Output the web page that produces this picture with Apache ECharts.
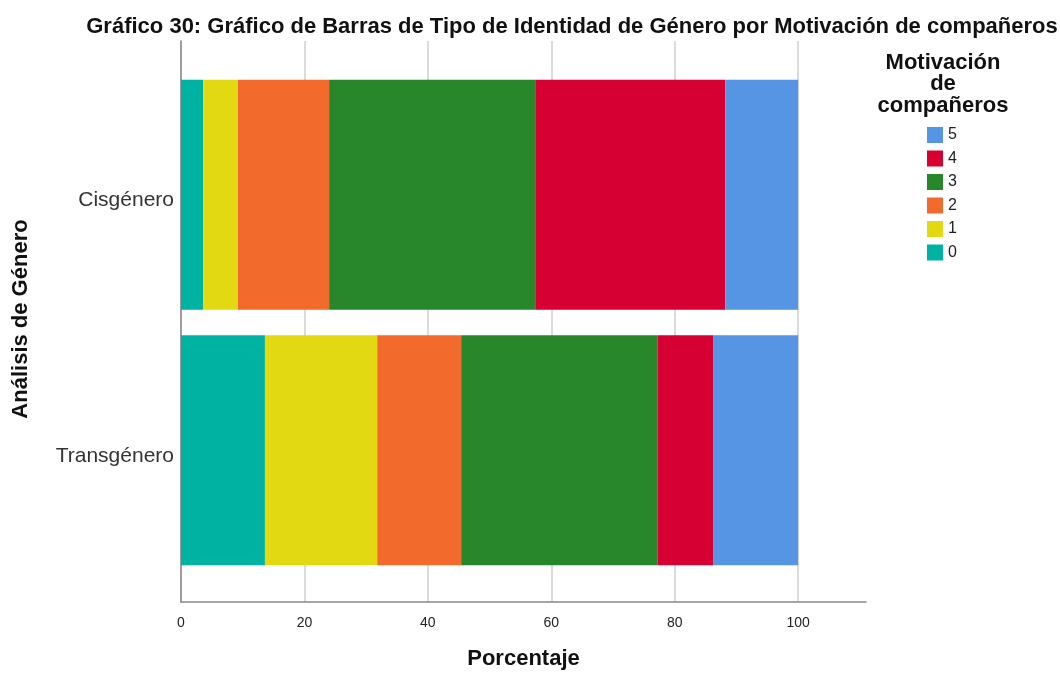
<!DOCTYPE html>
<html>
<head>
<meta charset="utf-8">
<script src="https://cdn.jsdelivr.net/npm/echarts@6/dist/echarts.min.js"></script>
<style>html,body{margin:0;padding:0;background:#fff}#c{width:1060px;height:675px}</style>
</head>
<body>
<div id="c"></div>
<script>
const categories = ['Cisgénero', 'Transgénero'];
const motivLevels = ['0', '1', '2', '3', '4', '5'];
const motiv0 = [3.6, 13.6];
const motiv1 = [5.6, 18.2];
const motiv2 = [14.8, 13.6];
const motiv3 = [33.4, 31.8];
const motiv4 = [30.8, 9.1];
const motiv5 = [11.8, 13.7];
const xTicks = [0, 20, 40, 60, 80, 100];
const colors = ['#00B2A1', '#E3D913', '#F36A2D', '#29872B', '#D70033', '#5595E3'];
const values = [motiv0, motiv1, motiv2, motiv3, motiv4, motiv5];

const FONT = 'Liberation Sans, Arial, sans-serif';
const chart = echarts.init(document.getElementById('c'), null, {renderer: 'canvas'});

const series = motivLevels.map((name, i) => ({
  name: name,
  type: 'bar',
  stack: 'total',
  xAxisIndex: 1,
  yAxisIndex: 1,
  barWidth: 230,
  itemStyle: {color: colors[i]},
  emphasis: {disabled: true},
  data: values[i]
}));

chart.setOption({
  animation: false,
  textStyle: {fontFamily: FONT},
  title: [
    {
      text: 'Gráfico 30: Gráfico de Barras de Tipo de Identidad de Género por Motivación de compañeros',
      left: 572, top: 16, padding: 0, textAlign: 'center',
      textStyle: {fontSize: 22, fontWeight: 'bold', color: '#111', fontFamily: FONT}
    },
    {
      text: 'Motivación\nde\ncompañeros',
      left: 943, top: 52, padding: 0, textAlign: 'center',
      textStyle: {fontSize: 22, fontWeight: 'bold', color: '#111', lineHeight: 21.5, fontFamily: FONT}
    }
  ],
  legend: {
    orient: 'vertical',
    left: 927, top: 127, padding: 0,
    itemWidth: 16, itemHeight: 16, itemGap: 7.5,
    icon: 'rect',
    data: ['5', '4', '3', '2', '1', '0'],
    textStyle: {fontSize: 16, color: '#222'}
  },
  grid: [
    {left: 181, top: 41, width: 685, height: 563, containLabel: false},
    {left: 181, top: 67, width: 685, height: 511, containLabel: false}
  ],
  xAxis: [
    {
      type: 'value', gridIndex: 0, min: 0, max: 111,
      axisLine: {show: true, lineStyle: {color: '#888', width: 1.5}},
      axisTick: {show: false, customValues: xTicks},
      axisLabel: {customValues: xTicks, fontSize: 14, color: '#222', margin: 14},
      splitLine: {show: true, lineStyle: {color: '#cfcfcf', width: 1.5}},
      name: 'Porcentaje', nameLocation: 'middle', nameGap: 46,
      nameTextStyle: {fontSize: 22, fontWeight: 'bold', color: '#111'}
    },
    {
      type: 'value', gridIndex: 1, min: 0, max: 111, show: false
    }
  ],
  yAxis: [
    {
      type: 'value', gridIndex: 0, min: 0, max: 1,
      axisLine: {show: true, onZero: false, lineStyle: {color: '#888', width: 1.5}},
      axisTick: {show: false}, axisLabel: {show: false}, splitLine: {show: false}
    },
    {
      type: 'category', gridIndex: 1, data: categories, inverse: true,
      axisLine: {show: false}, axisTick: {show: false},
      axisLabel: {
        margin: 7,
        formatter: function (v) { return '{a|' + v + '}'; },
        rich: {a: {fontSize: 21, color: '#333', padding: [11, 0, 0, 0]}}
      }
    }
  ],
  graphic: [
    {
      type: 'text', x: 21, y: 319, rotation: Math.PI / 2,
      style: {text: 'Análisis de Género', fontSize: 22, fontWeight: 'bold', fill: '#111',
              align: 'center', verticalAlign: 'middle', fontFamily: FONT}
    }
  ],
  series: series
});
</script>
</body>
</html>
